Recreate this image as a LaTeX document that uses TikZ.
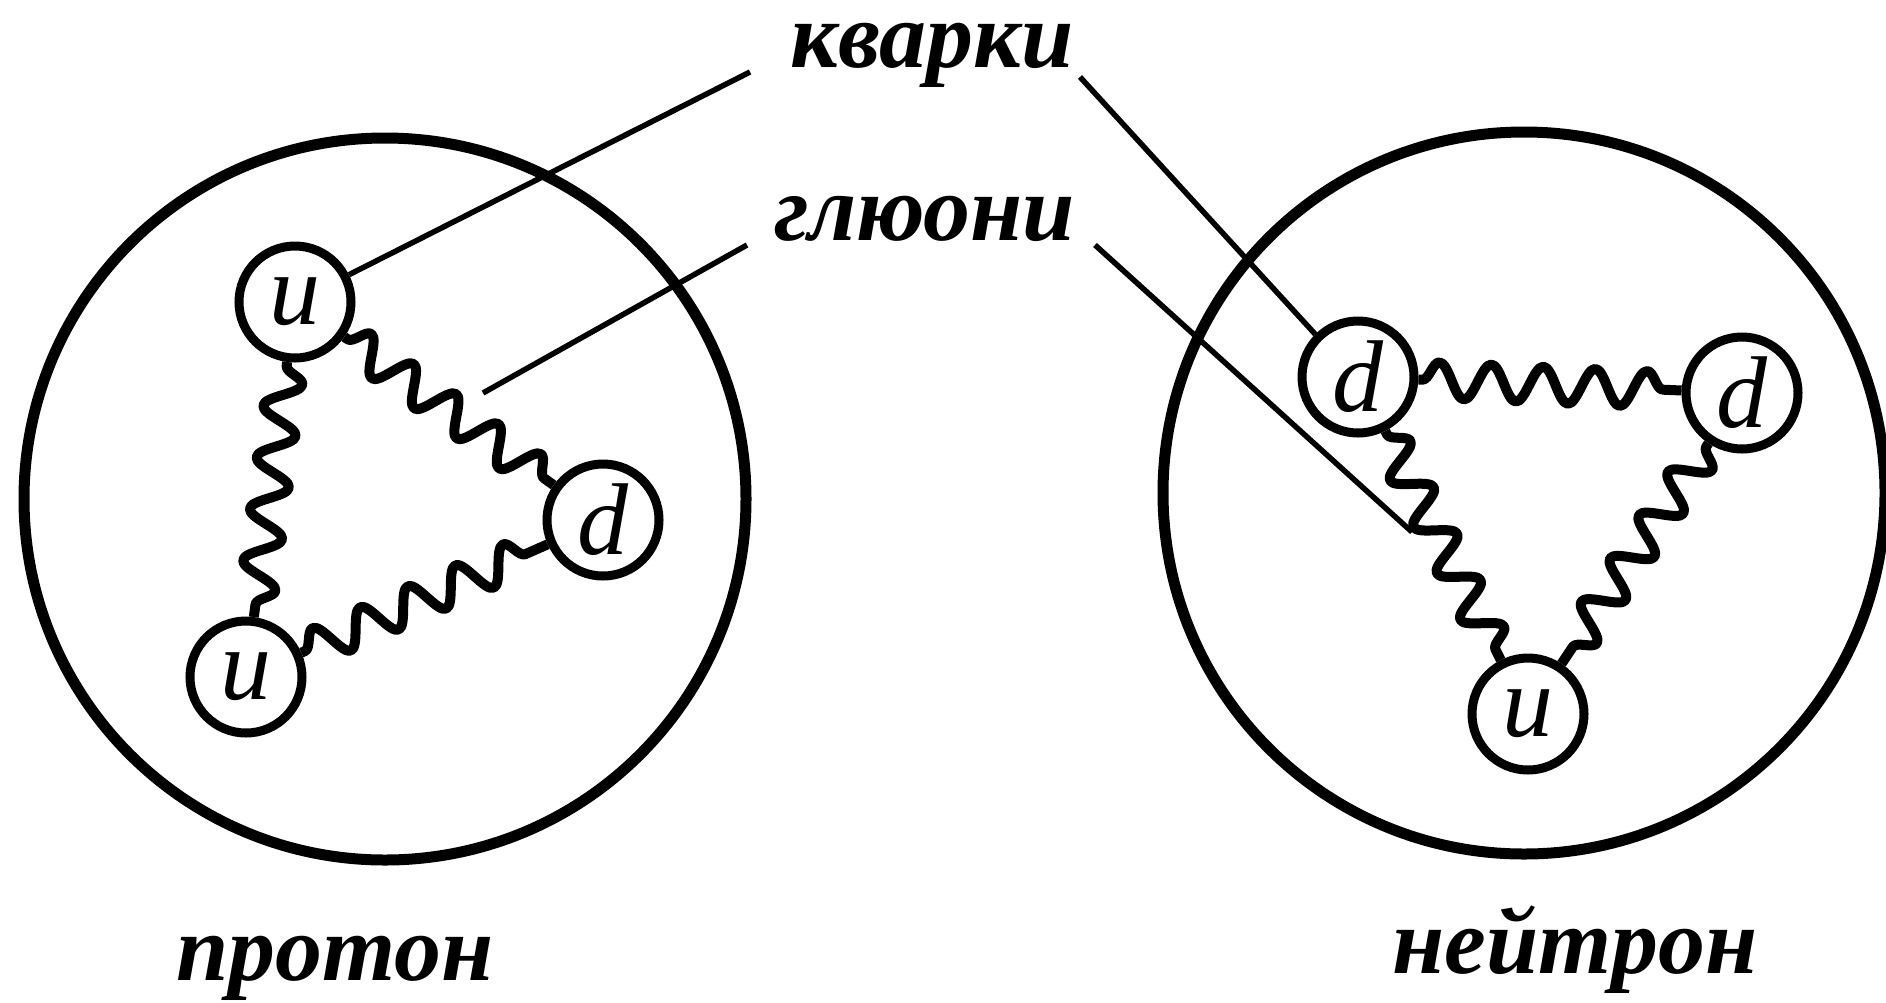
\documentclass[tikz,border=0pt]{standalone}
\usepackage{fontspec}
\setmainfont{Liberation Serif}
\usetikzlibrary{decorations.pathmorphing}
\begin{document}
\begin{tikzpicture}[x=1pt,y=-1pt,
  hadron/.style={circle,draw,line width=11pt,minimum size=722pt,inner sep=0pt},
  quark/.style={circle,draw,line width=9pt,minimum size=112pt,inner sep=0pt,
    font=\fontsize{102}{102}\selectfont\itshape},
  gluon/.style={line width=10pt,line join=round,decorate,
    decoration={snake,segment length=52pt,amplitude=18pt,pre length=4pt,post length=4pt}},
  pointer/.style={line width=5.5pt},
  caption/.style={font=\fontsize{94}{94}\selectfont\bfseries\itshape,
    inner sep=0pt,anchor=base,text height=0.5em}]
\useasboundingbox (0,0) rectangle (1886,1002);

% hadrons
\node[hadron] (proton) at (385,499) {};
\node[hadron] (neutron) at (1524,493) {};

% quarks of the proton
\node[quark] (pu1) at (295,302) {u};
\node[quark] (pd)  at (603,520) {d};
\node[quark] (pu2) at (246,677) {u};

% quarks of the neutron
\node[quark] (nd1) at (1358,377) {d};
\node[quark] (nd2) at (1742,393) {d};
\node[quark] (nu)  at (1528,714) {u};

% gluons
\draw[gluon] (pu1) -- (pd);
\draw[gluon] (pu1) -- (pu2);
\draw[gluon] (pu2) -- (pd);
\draw[gluon] (nd1) -- (nd2);
\draw[gluon] (nd1) -- (nu);
\draw[gluon] (nd2) -- (nu);

% captions
\node[caption] (kv) at (932,67) {кварки};
\node[caption] (gl) at (925,240) {глюони};
\node[caption] (pr) at (335,980) {протон};
\node[caption] (ne) at (1575,973) {нейтрон};

% pointer lines
\coordinate (kvL) at (750,72);
\coordinate (kvR) at (1080,77);
\coordinate (glL) at (747,245);
\coordinate (glR) at (1095,245);
\coordinate (gpL) at (483,393);
\coordinate (gpR) at (1412,532);
\draw[pointer] (kvL) -- (pu1);
\draw[pointer] (kvR) -- (nd1.135);
\draw[pointer] (glL) -- (gpL);
\draw[pointer] (glR) -- (gpR);
\end{tikzpicture}
\end{document}
